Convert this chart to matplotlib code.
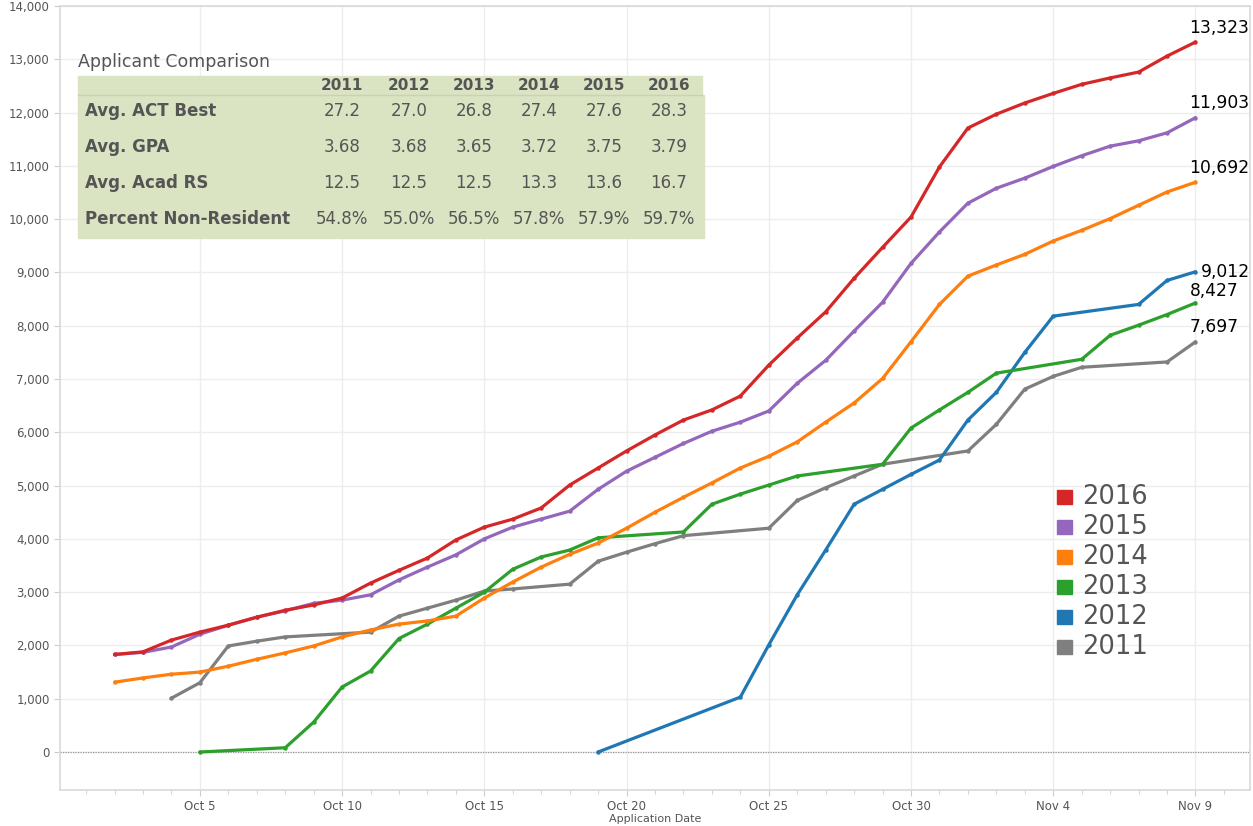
import numpy as np
import matplotlib
matplotlib.use("Agg")
import matplotlib.pyplot as plt
import matplotlib.dates as mdates
from matplotlib.patches import Rectangle
from matplotlib.ticker import FuncFormatter, MultipleLocator

# Cumulative applications by application date (days aligned to 2016 calendar)
dates_full = ["10-%02d" % d for d in range(2, 32)] + ["11-%02d" % d for d in range(1, 10)]

dates_2016 = dates_full
vals_2016 = [1830, 1880, 2100, 2250, 2380, 2530, 2660, 2760, 2890, 3170, 3410, 3640,
             3980, 4220, 4370, 4580, 5010, 5330, 5650, 5950, 6230, 6420, 6680, 7260,
             7770, 8260, 8890, 9470, 10040, 10980, 11710, 11970, 12180, 12360, 12530,
             12650, 12760, 13060, 13323]

dates_2015 = dates_full
vals_2015 = [1830, 1870, 1970, 2210, 2380, 2530, 2650, 2790, 2850, 2950, 3230, 3470,
             3700, 4000, 4220, 4370, 4520, 4930, 5270, 5530, 5790, 6020, 6190, 6400,
             6920, 7350, 7900, 8440, 9170, 9760, 10300, 10580, 10770, 10990, 11190,
             11370, 11470, 11620, 11903]

dates_2014 = dates_full
vals_2014 = [1310, 1390, 1460, 1500, 1610, 1740, 1860, 1990, 2160, 2290, 2400, 2460,
             2550, 2890, 3190, 3470, 3710, 3920, 4200, 4500, 4780, 5050, 5330, 5550,
             5820, 6190, 6550, 7010, 7700, 8400, 8930, 9140, 9340, 9590, 9790, 10010,
             10260, 10510, 10692]

dates_2013 = ["10-05", "10-08", "10-09", "10-10", "10-11", "10-12", "10-13", "10-14",
              "10-15", "10-16", "10-17", "10-18", "10-19", "10-22", "10-23", "10-24",
              "10-25", "10-26", "10-29", "10-30", "10-31", "11-01", "11-02", "11-05",
              "11-06", "11-07", "11-08", "11-09"]
vals_2013 = [0, 80, 560, 1220, 1520, 2130, 2400, 2700, 3000, 3430, 3660, 3790, 4020,
             4130, 4650, 4840, 5010, 5180, 5400, 6080, 6420, 6750, 7110, 7370, 7820,
             8010, 8210, 8427]

dates_2012 = ["10-19", "10-24", "10-25", "10-26", "10-27", "10-28", "10-29", "10-30",
              "10-31", "11-01", "11-02", "11-03", "11-04", "11-07", "11-08", "11-09"]
vals_2012 = [0, 1030, 2010, 2950, 3790, 4650, 4930, 5210, 5480, 6230, 6750, 7500, 8180,
             8400, 8850, 9012]

dates_2011 = ["10-04", "10-05", "10-06", "10-07", "10-08", "10-11", "10-12", "10-13",
              "10-14", "10-15", "10-16", "10-18", "10-19", "10-20", "10-21", "10-22",
              "10-25", "10-26", "10-27", "10-28", "10-29", "11-01", "11-02", "11-03",
              "11-04", "11-05", "11-08", "11-09"]
vals_2011 = [1010, 1300, 1990, 2080, 2160, 2250, 2550, 2700, 2850, 3020, 3060, 3150,
             3580, 3750, 3910, 4060, 4200, 4720, 4960, 5180, 5400, 5650, 6150, 6810,
             7050, 7220, 7320, 7697]

years = ["2016", "2015", "2014", "2013", "2012", "2011"]
colors = ["#d62728", "#9467bd", "#ff7f0e", "#2ca02c", "#1f77b4", "#7f7f7f"]

# Applicant comparison table
table_years = ["2011", "2012", "2013", "2014", "2015", "2016"]
table_rows = ["Avg. ACT Best", "Avg. GPA", "Avg. Acad RS", "Percent Non-Resident"]
act_best = ["27.2", "27.0", "26.8", "27.4", "27.6", "28.3"]
avg_gpa = ["3.68", "3.68", "3.65", "3.72", "3.75", "3.79"]
acad_rs = ["12.5", "12.5", "12.5", "13.3", "13.6", "16.7"]
non_resident = ["54.8%", "55.0%", "56.5%", "57.8%", "57.9%", "59.7%"]

series = {
    "2016": (dates_2016, vals_2016),
    "2015": (dates_2015, vals_2015),
    "2014": (dates_2014, vals_2014),
    "2013": (dates_2013, vals_2013),
    "2012": (dates_2012, vals_2012),
    "2011": (dates_2011, vals_2011),
}

W, H = 1253, 826
TEXT = "#555555"
GRID = "#ededed"


def to_dates(md):
    return np.array(["2016-" + s for s in md], dtype="datetime64[D]")


def fxy(x, y):
    return x / W, 1 - y / H


plt.rcParams["font.family"] = ["DejaVu Sans"]

fig = plt.figure(figsize=(W / 100, H / 100), dpi=100)
ax = fig.add_axes([60 / W, (H - 790) / H, 1190 / W, 784 / H])

# plot oldest first so 2016 sits on top
for yr, col in reversed(list(zip(years, colors))):
    d, v = series[yr]
    ax.plot(to_dates(d), v, color=col, lw=2.3, marker="o", ms=2.2,
            solid_capstyle="round", zorder=3)

# end labels
label_offsets = {"2016": (-6, 14), "2015": (-6, 15), "2014": (-6, 14),
                 "2012": (5, 0), "2013": (-6, 12), "2011": (-6, 15)}
for yr in years:
    d, v = series[yr]
    ax.annotate(f"{v[-1]:,}", xy=(to_dates(d)[-1], v[-1]),
                xytext=label_offsets[yr], textcoords="offset pixels",
                ha="left", va="center", fontsize=12.3, color="black", zorder=4)

ax.axhline(0, color="#999999", lw=0.9, ls=(0, (1, 1)), zorder=2)

ax.set_xlim(np.datetime64("2016-09-30T02"), np.datetime64("2016-11-10T22"))
ax.set_ylim(-713, 14000)

ticks = to_dates(["10-05", "10-10", "10-15", "10-20", "10-25", "10-30", "11-04", "11-09"])
ax.set_xticks(ticks)
ax.xaxis.set_major_formatter(FuncFormatter(
    lambda x, pos: mdates.num2date(x).strftime("%b ") + str(mdates.num2date(x).day)))
ax.xaxis.set_minor_locator(mdates.DayLocator())
ax.yaxis.set_major_locator(MultipleLocator(1000))
ax.yaxis.set_major_formatter(FuncFormatter(lambda y, pos: f"{int(y):,}"))

ax.grid(True, which="major", color=GRID, lw=1.0, zorder=0)
ax.tick_params(axis="both", which="major", labelsize=8.5, labelcolor=TEXT,
               color="#cccccc", length=4)
ax.tick_params(axis="x", which="minor", color="#cccccc", length=3)
ax.tick_params(axis="x", pad=3)
for sp in ax.spines.values():
    sp.set_color("#d9d9d9")
    sp.set_linewidth(1.2)
ax.set_xlabel("Application Date", fontsize=8, color=TEXT, labelpad=1)

# table
fig.text(*fxy(78, 62), "Applicant Comparison", fontsize=12.5, color=TEXT,
         va="center", ha="left")
fig.patches.append(Rectangle(fxy(78, 95), (702 - 78) / W, 19 / H,
                             transform=fig.transFigure, color="#dae4c3", zorder=0))
fig.patches.append(Rectangle(fxy(78, 238), (704 - 78) / W, 143 / H,
                             transform=fig.transFigure, color="#dae4c3", zorder=0))
fig.lines.append(plt.Line2D([78 / W, 702 / W], [1 - 95 / H] * 2,
                            transform=fig.transFigure, color="#c8d2b4", lw=1))
col_x = [342, 409, 474, 539, 604, 669]
for cx, yr in zip(col_x, table_years):
    fig.text(*fxy(cx, 85), yr, fontsize=11, fontweight="bold", color=TEXT,
             ha="center", va="center")
row_y = [111, 147, 183, 219]
for ry, name, vals in zip(row_y, table_rows, [act_best, avg_gpa, acad_rs, non_resident]):
    fig.text(*fxy(85, ry), name, fontsize=12, fontweight="bold", color=TEXT,
             ha="left", va="center")
    for cx, val in zip(col_x, vals):
        fig.text(*fxy(cx, ry), val, fontsize=12, color=TEXT, ha="center", va="center")

# legend
leg_y = [497, 527, 557, 587, 617, 647]
for ly, yr, col in zip(leg_y, years, colors):
    fig.patches.append(Rectangle(fxy(1057, ly + 7), 15 / W, 14 / H,
                                 transform=fig.transFigure, color=col))
    fig.text(*fxy(1082, ly), yr, fontsize=18.5, color=TEXT, ha="left", va="center")

fig.savefig("out.png", dpi=100)
